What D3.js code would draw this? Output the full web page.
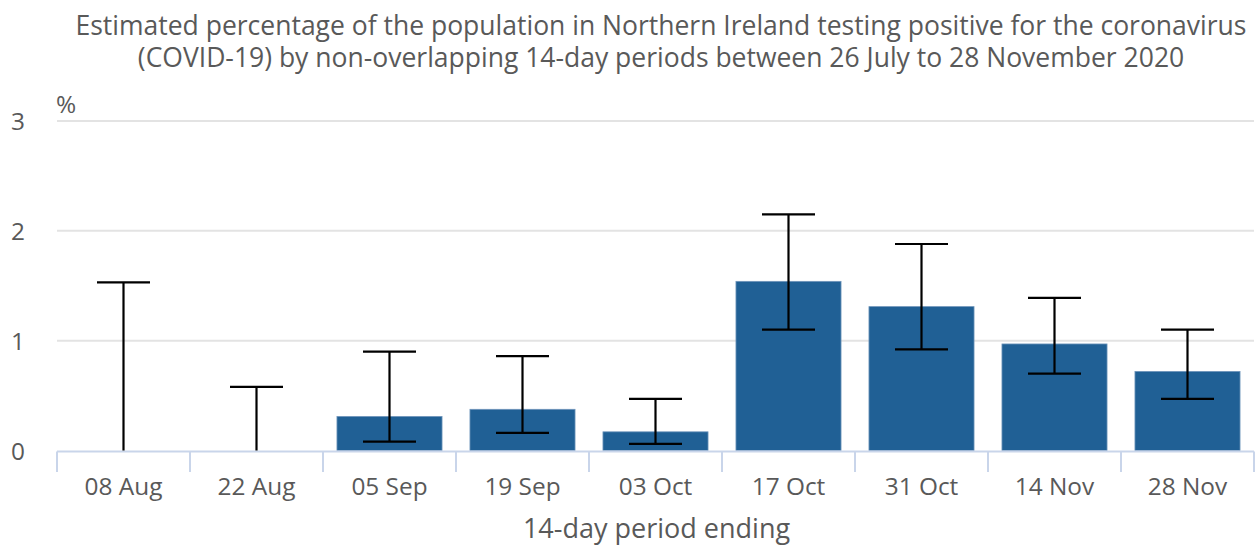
<!DOCTYPE html>
<html><head><meta charset="utf-8">
<script src="https://cdn.jsdelivr.net/npm/d3@7"></script>
<style>
body{margin:0;background:#fff;}
text{font-family:"Open Sans",sans-serif;}
</style></head>
<body><svg id="c" width="1257" height="546"></svg>
<script>
const categories = ["08 Aug","22 Aug","05 Sep","19 Sep","03 Oct","17 Oct","31 Oct","14 Nov","28 Nov"];
const estimate = [0, 0, 0.31, 0.375, 0.17, 1.54, 1.31, 0.97, 0.72];
const lower = [0, 0, 0.08, 0.16, 0.06, 1.10, 0.92, 0.70, 0.47];
const upper = [1.53, 0.58, 0.90, 0.86, 0.47, 2.15, 1.88, 1.39, 1.10];
const yTicks = [0,1,2,3];
const titleLines = ["Estimated percentage of the population in Northern Ireland testing positive for the coronavirus","(COVID-19) by non-overlapping 14-day periods between 26 July to 28 November 2020"];

const svg = d3.select("#c");
const pLeft = 57, pRight = 1254, pTop = 121, pBottom = 450.5;
const x = d3.scaleBand().domain(categories).range([pLeft, pRight]).paddingInner(0.21).paddingOuter(0.105);
const xb = d3.scaleBand().domain(categories).range([pLeft, pRight]);
const y = d3.scaleLinear().domain([0,3]).range([pBottom, pTop]);
const txt = "#595959";

svg.append("g").selectAll("text").data(titleLines).join("text")
  .attr("x", 661).attr("y", (d,i)=>35+i*31.5).attr("text-anchor","middle")
  .attr("font-size", 26.5).attr("fill", txt).text(d=>d);

// gridlines
svg.append("g").selectAll("line").data(yTicks.filter(d=>d>0)).join("line")
  .attr("x1", pLeft).attr("x2", pRight).attr("y1", d=>y(d)).attr("y2", d=>y(d))
  .attr("stroke","#e3e3e3").attr("stroke-width",2);
svg.append("g").selectAll("text").data(yTicks).join("text")
  .attr("x", 25).attr("y", d=>y(d)+9).attr("text-anchor","end")
  .attr("font-size",24.4).attr("fill",txt).text(d=>d);
svg.append("text").attr("x",56).attr("y",113).attr("font-size",24.4).attr("fill",txt).text("%");

// bars
svg.append("g").selectAll("rect").data(categories).join("rect")
  .attr("x", d=>x(d)).attr("width", x.bandwidth())
  .attr("y", (d,i)=>y(estimate[i])).attr("height",(d,i)=>y(0)-y(estimate[i]))
  .attr("fill","#206095").attr("stroke","#6f95bb").attr("stroke-width",0.8);

// x axis
const ax = svg.append("g");
ax.append("line").attr("x1",pLeft).attr("x2",pRight).attr("y1",pBottom+1).attr("y2",pBottom+1)
  .attr("stroke","#c9d5ea").attr("stroke-width",2);
const bounds = categories.map(c=>xb(c)).concat([pRight]);
ax.selectAll("line.t").data(bounds).join("line").attr("class","t")
  .attr("x1",d=>d).attr("x2",d=>d).attr("y1",pBottom+1).attr("y2",472)
  .attr("stroke","#c9d5ea").attr("stroke-width",2);
ax.selectAll("text").data(categories).join("text")
  .attr("x", d=>xb(d)+xb.bandwidth()/2).attr("y",495).attr("text-anchor","middle")
  .attr("font-size",24.4).attr("fill",txt).text(d=>d);
svg.append("text").attr("x",656.5).attr("y",538).attr("text-anchor","middle")
  .attr("font-size",27).attr("fill",txt).text("14-day period ending");

// error bars
const eb = svg.append("g").attr("stroke","#000").attr("stroke-width",2.2);
categories.forEach((c,i)=>{
  const cx = xb(c)+xb.bandwidth()/2;
  eb.append("line").attr("x1",cx).attr("x2",cx).attr("y1",y(lower[i])).attr("y2",y(upper[i]));
  eb.append("line").attr("x1",cx-26.5).attr("x2",cx+26.5).attr("y1",y(upper[i])).attr("y2",y(upper[i]));
  if (lower[i] > 0) eb.append("line").attr("x1",cx-26.5).attr("x2",cx+26.5).attr("y1",y(lower[i])).attr("y2",y(lower[i]));
});
</script></body></html>
